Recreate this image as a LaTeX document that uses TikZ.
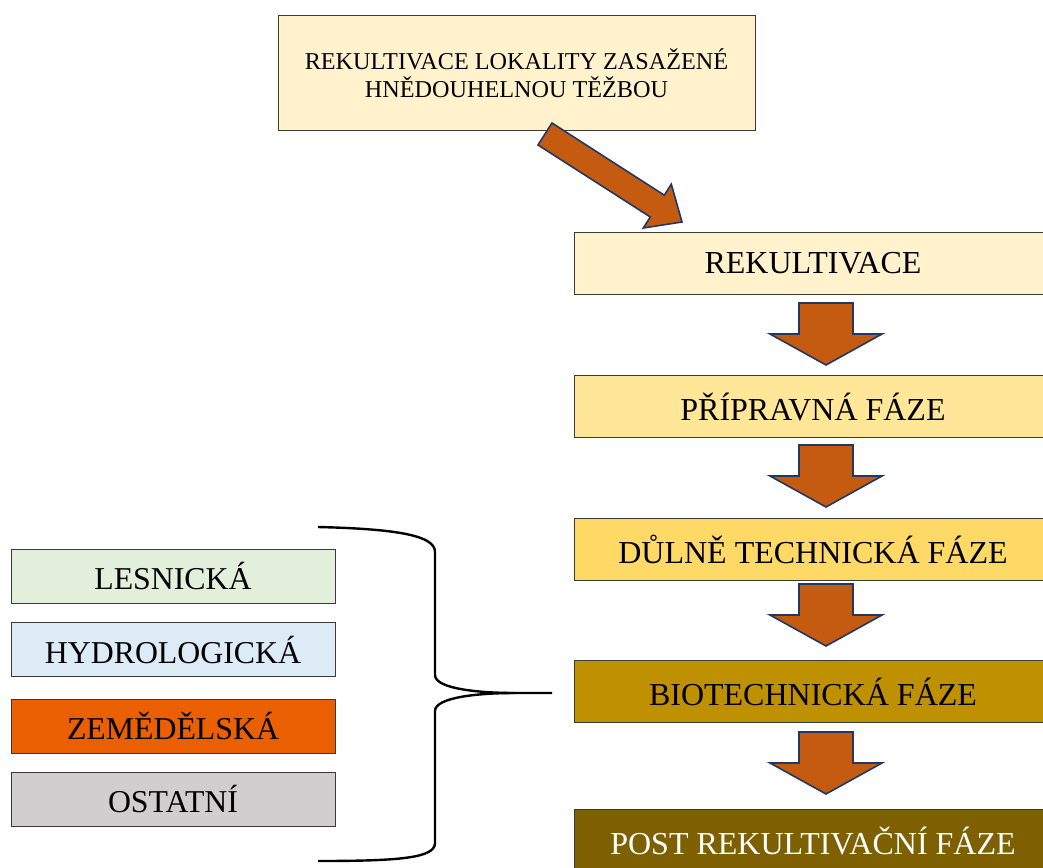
\documentclass[tikz,border=0pt]{standalone}
\usepackage{fontspec}
\setmainfont{Liberation Serif}
\definecolor{cTop}{HTML}{FFF2CC}
\definecolor{cP1}{HTML}{FFE699}
\definecolor{cP2}{HTML}{FFD966}
\definecolor{cP3}{HTML}{BF9000}
\definecolor{cP4}{HTML}{7F6000}
\definecolor{cArr}{HTML}{C55A11}
\definecolor{cArrB}{HTML}{1F3864}
\definecolor{cLes}{HTML}{E2EFDA}
\definecolor{cHyd}{HTML}{DDEBF7}
\definecolor{cZem}{HTML}{EA5F00}
\definecolor{cOst}{HTML}{D0CECE}
\definecolor{cBord}{HTML}{3A3A3A}
\tikzset{
  phase/.style={draw=cBord, line width=1pt, minimum width=478pt, minimum height=62pt, inner sep=0pt, font=\fontsize{32}{36}\selectfont, text=black},
  kind/.style={draw=cBord, line width=1pt, minimum width=324pt, minimum height=54pt, inner sep=0pt, font=\fontsize{31.8}{36}\selectfont, text=black},
  blockarrow/.style={fill=cArr, draw=cArrB, line width=1.6pt, line join=miter},
  bracestyle/.style={draw=black, line width=2.4pt}
}
\newcommand\downarrowat[1]{%
  \draw[blockarrow] (799,#1) -- (853,#1) -- (853,#1+31) -- (882,#1+31) -- (826,#1+62) -- (770,#1+31) -- (799,#1+31) -- cycle;}
\begin{document}
\begin{tikzpicture}[x=1pt,y=-1pt]
\useasboundingbox (0,0) rectangle (1043,867);
\node[draw=cBord, line width=1pt, fill=cTop, minimum width=477pt, minimum height=114pt, inner sep=0pt, align=center, font=\fontsize{24.2}{28}\selectfont] (top) at (516.5,73) {REKULTIVACE LOKALITY ZASAŽENÉ\\HNĚDOUHELNOU TĚŽBOU};
\node[phase, fill=cTop] (p0) at (813,263) {REKULTIVACE};
\node[phase, fill=cP1] (p1) at (813,406.5) {PŘÍPRAVNÁ FÁZE};
\node[phase, fill=cP2] (p2) at (813,549.5) {DŮLNĚ TECHNICKÁ FÁZE};
\node[phase, fill=cP3] (p3) at (813,691.5) {BIOTECHNICKÁ FÁZE};
\node[phase, fill=cP4, text=white] (p4) at (813,840.5) {POST REKULTIVAČNÍ FÁZE};
\node[kind, fill=cLes] (les) at (173,576) {LESNICKÁ};
\node[kind, fill=cHyd] (hyd) at (173,649.5) {HYDROLOGICKÁ};
\node[kind, fill=cZem] (zem) at (173,726) {ZEMĚDĚLSKÁ};
\node[kind, fill=cOst] (ost) at (173,799) {OSTATNÍ};
% diagonal arrow
\draw[blockarrow] (552,123) -- (664.3,195.2) -- (671.3,184.2) -- (682,222) -- (643.3,228) -- (650.3,217) -- (538,145) -- cycle;
% down arrows
\downarrowat{303}
\downarrowat{445}
\downarrowat{584}
\downarrowat{732}
% brace
\coordinate (btip) at (552,693);
\draw[bracestyle] (318,527) .. controls (400,529) and (435,536) .. (435,552) -- (435,675) .. controls (435,689) and (480,693) .. (515,693) -- (btip);
\draw[bracestyle] (515,693) .. controls (480,693) and (435,697) .. (435,711) -- (435,843) .. controls (435,858) and (400,861) .. (318,861);
\end{tikzpicture}
\end{document}
